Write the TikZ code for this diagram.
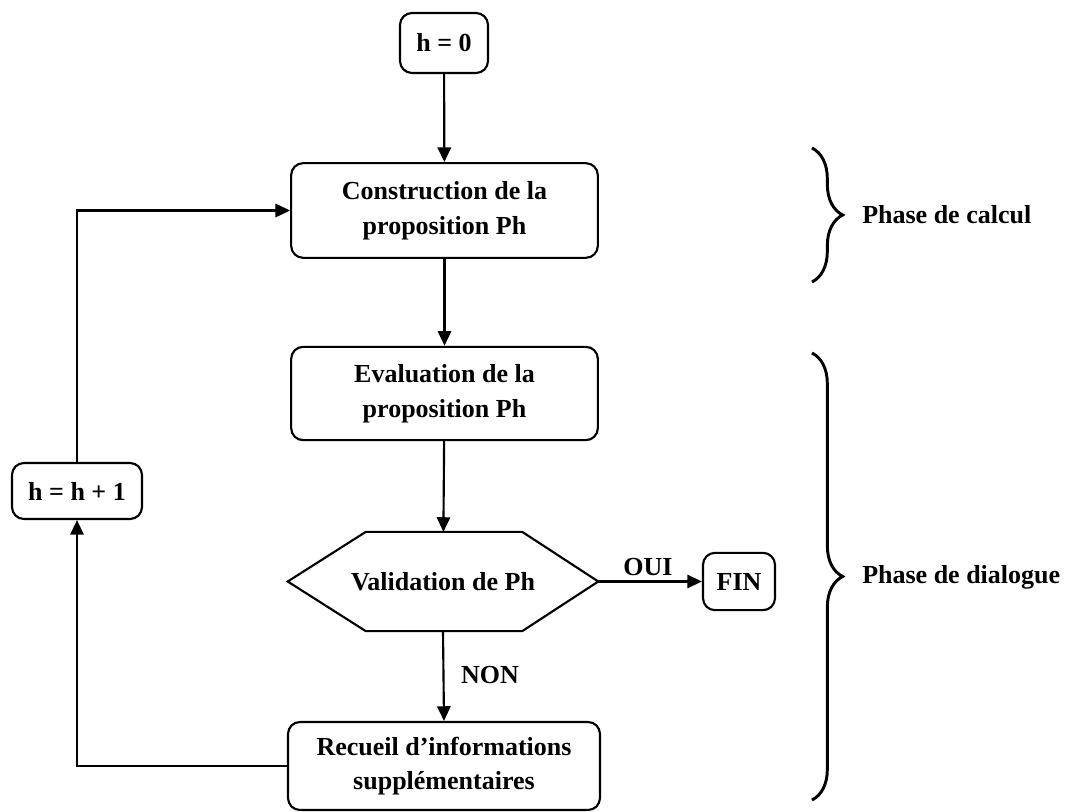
\documentclass[tikz,border=0pt]{standalone}
\usepackage{fontspec}
\setmainfont{Liberation Serif}
\usetikzlibrary{arrows.meta,calc,decorations.pathreplacing}
\begin{document}
\begin{tikzpicture}[x=0.75pt,y=-0.75pt,
  every node/.style={font=\fontsize{19.5pt}{26pt}\selectfont\bfseries},
  box/.style={draw,line width=1.6pt,rounded corners=9pt,align=center,inner sep=0pt},
  arr/.style={line width=1.6pt,-{Triangle[length=11pt,width=10pt]}},
  phasebrace/.style={line width=2.2pt,decorate,decoration={brace,amplitude=23pt}},
]
\path[use as bounding box] (0,0) rectangle (1067,812);

% process boxes
\node[box,minimum width=66pt,minimum height=45pt] (h0) at (444,43) {h = 0};
\node[box,minimum width=230pt,minimum height=71pt] (cons) at (444.5,210.5) {Construction de la\\proposition Ph};
\node[box,minimum width=230pt,minimum height=70pt] (eval) at (444.5,393.5) {Evaluation de la\\proposition Ph};
\node[minimum width=232.5pt,minimum height=74pt,inner sep=0pt] (val) at (443,581.5) {Validation de Ph};
\node[box,minimum width=54pt,minimum height=43pt] (fin) at (739,581.5) {FIN};
\node[box,minimum width=234pt,minimum height=66pt] (rec) at (444,766) {Recueil d'informations\\supplémentaires};
\node[box,minimum width=97.5pt,minimum height=42pt] (hh) at (77,491) {h = h + 1};

% decision hexagon
\draw[line width=1.6pt,line join=miter] (val.west) -- ($(val.north west)+(78,0)$) -- ($(val.north east)+(-76,0)$)
  -- (val.east) -- ($(val.south east)+(-76,0)$) -- ($(val.south west)+(78,0)$) -- cycle;

% flow
\draw[arr] (h0) -- (cons);
\draw[arr] (cons) -- (eval);
\draw[arr] (eval) -- (val);
\draw[arr] (val.east) -- (fin.west);
\draw[arr] (val.south) -- (rec.north);
\draw[arr] (rec.west) -| (hh.south);
\draw[arr] (hh.north) |- (cons.west);
\node (oui) at (648,567) {OUI};
\node (non) at (490,675) {NON};

% phases
\coordinate (ca) at (812,148);
\coordinate (cb) at (812,282);
\coordinate (da) at (812,353);
\coordinate (db) at (812,800);
\draw[phasebrace] (ca) -- (cb);
\draw[phasebrace] (da) -- (db);
\node[anchor=west,inner sep=0pt] (pcalc) at (862,215) {Phase de calcul};
\node[anchor=west,inner sep=0pt] (pdial) at (862,577) {Phase de dialogue};
\end{tikzpicture}
\end{document}
